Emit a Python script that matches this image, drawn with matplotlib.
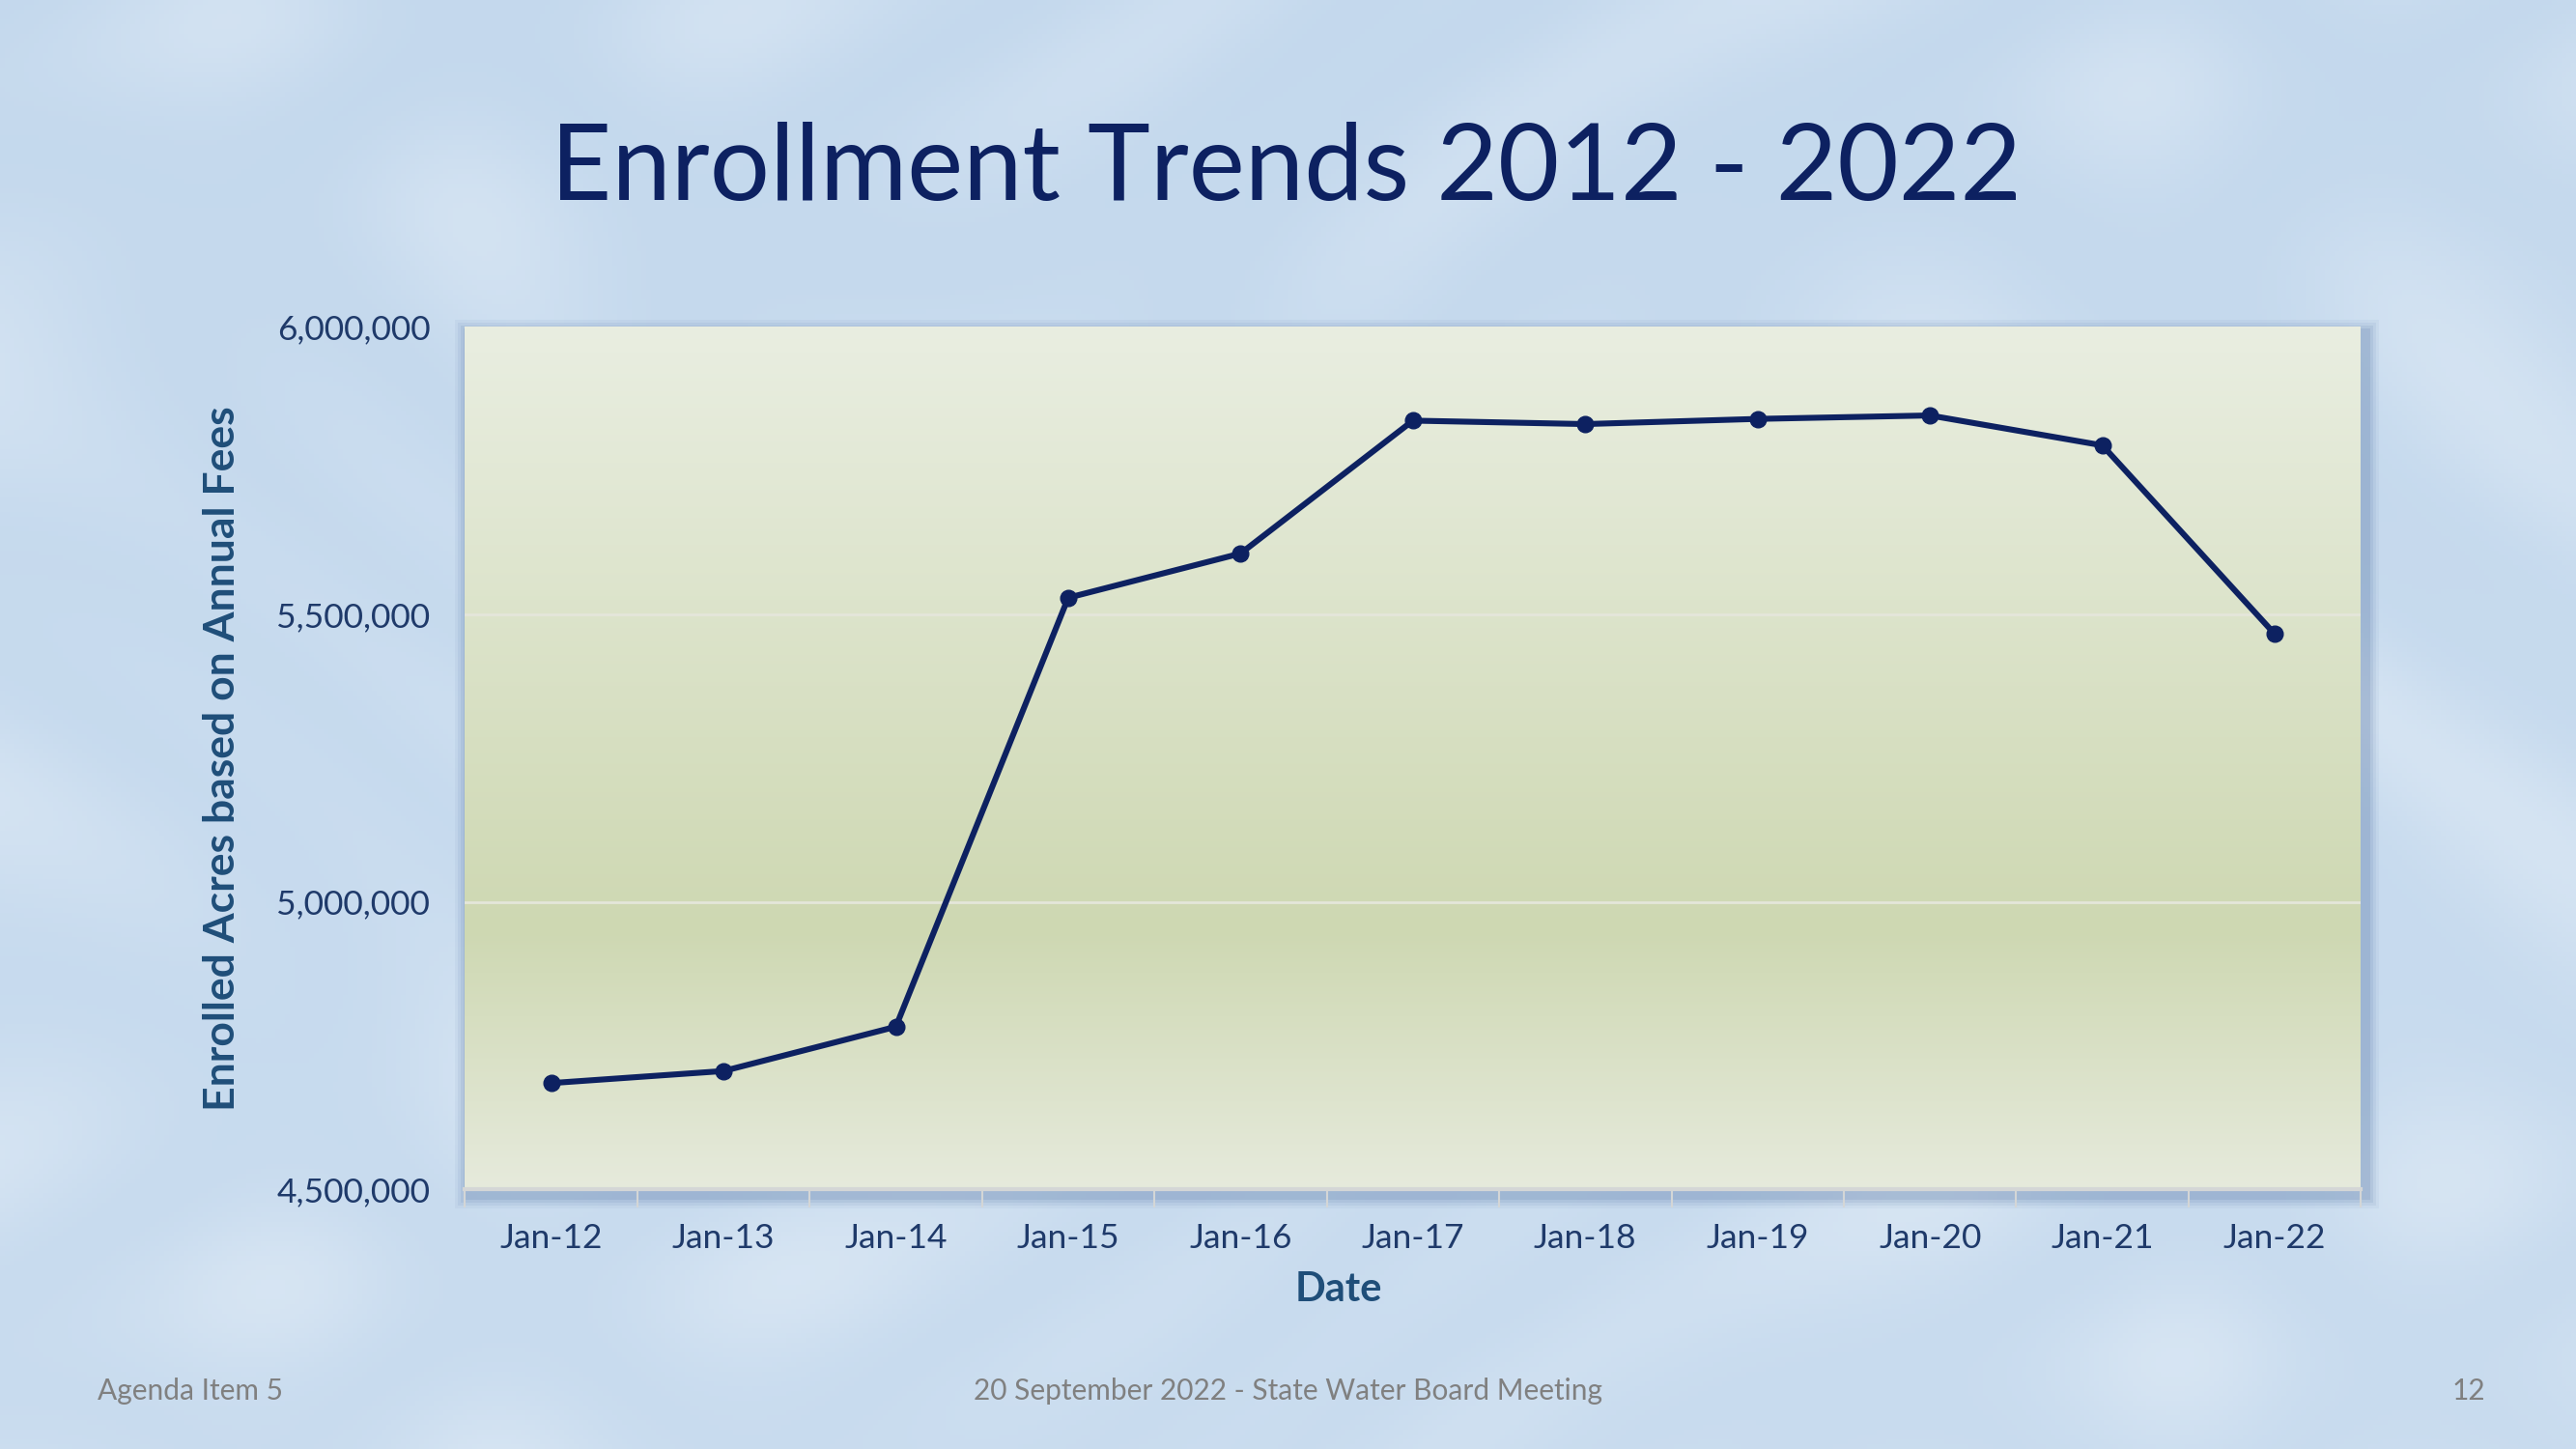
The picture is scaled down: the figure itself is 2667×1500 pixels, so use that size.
import numpy as np
import matplotlib.pyplot as plt
from matplotlib.patches import FancyBboxPatch
from matplotlib.ticker import FuncFormatter, FixedLocator

dates = ["Jan-12", "Jan-13", "Jan-14", "Jan-15", "Jan-16", "Jan-17",
         "Jan-18", "Jan-19", "Jan-20", "Jan-21", "Jan-22"]
acres = [4685000, 4706000, 4783000, 5529000, 5606000, 5837000,
         5831000, 5840000, 5846000, 5794000, 5466000]
y_ticks = [4500000, 5000000, 5500000, 6000000]

plt.rcParams["font.family"] = ["Lato", "DejaVu Sans"]

navy = "#0d2161"
label_blue = "#1f4e79"
tick_blue = "#1f3a6a"

fig = plt.figure(figsize=(26.67, 15), dpi=100)

# slide background (soft water-like blue)
bg = fig.add_axes([0, 0, 1, 1], zorder=0)
yy, xx = np.mgrid[0:1:300j, 0:1.78:534j]
pattern = (np.sin(xx * 9 + np.sin(yy * 7) * 2) * np.sin(yy * 11 + np.cos(xx * 5) * 2)) ** 2
base = np.array([0.77, 0.85, 0.93])
light = np.array([0.86, 0.91, 0.96])
img = base + (light - base) * (pattern[..., None] * 0.6 + yy[..., None] * 0.2)
bg.imshow(np.clip(img, 0, 1), extent=[0, 1, 0, 1], aspect="auto")
bg.axis("off")

# plot area position
left, bottom, width, height = 0.1805, 0.1791, 0.736, 0.5953

# drop shadow behind the plot area
for i, a in enumerate([0.05, 0.07, 0.09, 0.12]):
    pad = 0.009 - i * 0.002
    fig.patches.append(FancyBboxPatch((left - pad * 0.56 + 0.001, bottom - pad - 0.004),
                                      width + 2 * pad * 0.56 + 0.001, height + 2 * pad,
                                      boxstyle="square,pad=0", transform=fig.transFigure,
                                      facecolor="#3f6296", edgecolor="none", alpha=a, zorder=1))

ax = fig.add_axes([left, bottom, width, height], zorder=2)

# vertical gradient fill of the plot area
top_c = np.array([0.914, 0.933, 0.882])
mid_c = np.array([0.808, 0.847, 0.698])
bot_c = np.array([0.902, 0.918, 0.863])
t = np.linspace(0, 1, 400)[:, None]
grad = np.where(t < 0.7, top_c + (mid_c - top_c) * (t / 0.7), mid_c + (bot_c - mid_c) * ((t - 0.7) / 0.3))
ax.imshow(grad[:, None, :].repeat(2, axis=1), extent=[0, 1, 0, 1], transform=ax.transAxes,
          aspect="auto", zorder=0)

x = np.arange(len(dates))
ax.plot(x, acres, color=navy, linewidth=4.4, marker="o", markersize=12,
        markerfacecolor=navy, markeredgecolor=navy, zorder=3)

ax.set_xlim(-0.5, len(dates) - 0.5)
ax.set_ylim(y_ticks[0], y_ticks[-1])
ax.set_yticks(y_ticks)
ax.yaxis.set_major_formatter(FuncFormatter(lambda v, p: f"{int(v):,}"))
ax.set_xticks(x)
ax.set_xticklabels(dates)
ax.xaxis.set_minor_locator(FixedLocator(np.arange(-0.5, len(dates), 1.0)))

for yv in y_ticks[1:-1]:
    ax.axhline(yv, color="#e4e6da", linewidth=2, zorder=1)

for s in ["top", "right", "left"]:
    ax.spines[s].set_visible(False)
ax.spines["bottom"].set_color("#d4d6d6")
ax.spines["bottom"].set_linewidth(3)

ax.tick_params(axis="y", length=0, pad=26, labelsize=25.5, labelcolor=tick_blue)
ax.tick_params(axis="x", which="major", length=0, pad=25, labelsize=25.5, labelcolor=tick_blue)
ax.tick_params(axis="x", which="minor", length=14, width=1.5, color="#d4d6d6")

ax.set_ylabel("Enrolled Acres based on Annual Fees", fontsize=32, fontweight="bold",
              color=label_blue, labelpad=26)
fig.text(0.5198, 0.110, "Date", fontsize=30, fontweight="bold", color=label_blue,
         ha="center", va="center", zorder=3)

fig.text(0.4994, 0.883, "Enrollment Trends 2012 - 2022", fontsize=79, color=navy,
         ha="center", va="center", zorder=3)

fig.text(0.038, 0.040, "Agenda Item 5", fontsize=21.5, color="#808080", ha="left", va="center", zorder=3)
fig.text(0.5, 0.040, "20 September 2022 - State Water Board Meeting", fontsize=21.5, color="#808080",
         ha="center", va="center", zorder=3)
fig.text(0.965, 0.040, "12", fontsize=21.5, color="#808080", ha="right", va="center", zorder=3)

fig.savefig("out.png", dpi=100)
